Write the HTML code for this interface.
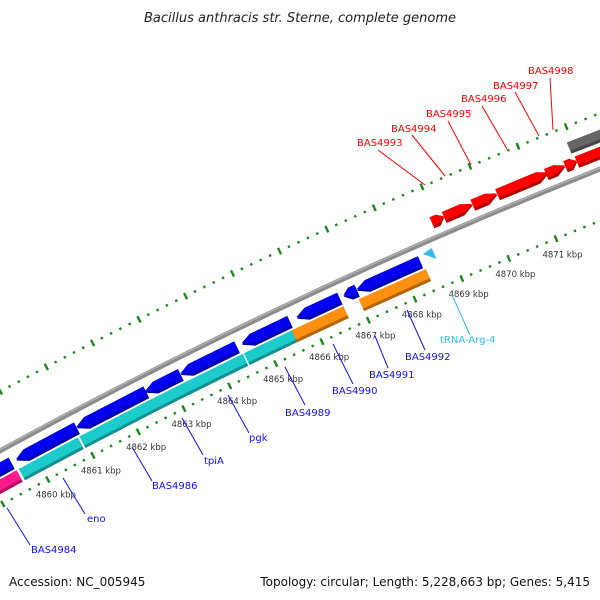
<!DOCTYPE html>
<html><head><meta charset="utf-8"><style>
body{margin:0;background:#fff}
svg{display:block}
text{font-family:"DejaVu Sans","Liberation Sans",sans-serif}
</style></head><body>
<svg id="map" width="600" height="600" viewBox="0 0 600 600" xmlns="http://www.w3.org/2000/svg">
<rect width="600" height="600" fill="#fff"/>
<text x="300" y="22" text-anchor="middle" font-size="13" font-style="italic" fill="#222">Bacillus anthracis str. Sterne, complete genome</text>
<g id="rings"></g>
<g id="features"></g>
<g id="labels"></g>
<text x="9" y="586" font-size="12" fill="#111">Accession: NC_005945</text>
<text x="590" y="586" text-anchor="end" font-size="12" fill="#111">Topology: circular; Length: 5,228,663 bp; Genes: 5,415</text>
</svg>
<script>
// ---- data ----
const kbpTicks = [4860,4861,4862,4863,4864,4865,4866,4867,4868,4869,4870,4871];
const featStart = [4858.3,4859.64,4860.97,4862.47,4863.24,4864.57,4865.75,4866.76,4867.04, 4858.3,4859.6,4860.94,4862.45,4863.2,4864.53,4865.56,4867.0, 4868.9,4869.16,4869.76,4870.28,4871.3,4871.7,4871.94, 4871.9, 4868.5];
const featEnd   = [4859.53,4860.97,4862.49,4863.24,4864.46,4865.6,4866.67,4867.04,4868.39, 4859.55,4860.9,4862.45,4863.28,4864.5,4865.6,4866.67,4868.43, 4869.16,4869.76,4870.28,4871.35,4871.7,4871.94,4874, 4875, 4868.7];
const featLane  = ['blue','blue','blue','blue','blue','blue','blue','blue','blue', 'inner','inner','inner','inner','inner','inner','inner','inner', 'red','red','red','red','red','red','red', 'gray', 'trna'];
const featColor = ['#0000ee','#0000ee','#0000ee','#0000ee','#0000ee','#0000ee','#0000ee','#0000ee','#0000ee', '#ff1a8c','#1ccccc','#1ccccc','#1ccccc','#1ccccc','#1ccccc','#ff9010','#ff9010', '#ff0000','#ff0000','#ff0000','#ff0000','#ff0000','#ff0000','#ff0000', '#666666', '#33bbee'];
const featDir   = [-1,-1,-1,-1,-1,-1,-1,-1,-1, 0,0,0,0,0,0,0,0, 1,1,1,1,1,1,1, 0, -1];
const labelNames = ['BAS4984','eno','BAS4986','tpiA','pgk','BAS4989','BAS4990','BAS4991','BAS4992','tRNA-Arg-4','BAS4993','BAS4994','BAS4995','BAS4996','BAS4997','BAS4998'];
const labelColor = ['#1010ff','#1010ff','#1010ff','#1010ff','#1010ff','#1010ff','#1010ff','#1010ff','#1010ff','#33bbee','#ff0000','#ff0000','#ff0000','#ff0000','#ff0000','#ff0000'];
// ---- geometry ----
const CX=2631, CY=5275, R0=5495, A0=-118.31, S=0.538;
const lanes={blue:[-23,-10],inner:[-38,-25],red:[9,21],gray:[25,37],trna:[-20,-8]};
function P(k,d){const a=(A0+S*(k-4860))*Math.PI/180;const r=R0+d;return [CX+r*Math.cos(a),CY+r*Math.sin(a)];}
const NS='http://www.w3.org/2000/svg';
function mk(tag,attrs,parent){const e=document.createElementNS(NS,tag);for(const k in attrs)e.setAttribute(k,attrs[k]);parent.appendChild(e);return e;}
const rings=document.getElementById('rings'), feats=document.getElementById('features'), labs=document.getElementById('labels');
function arcPath(k0,k1,d){let s='';const n=20;for(let i=0;i<=n;i++){const p=P(k0+(k1-k0)*i/n,d);s+=(i?'L':'M')+p[0].toFixed(1)+' '+p[1].toFixed(1);}return s;}
// backbone
let bb=mk('path',{d:arcPath(4855,4878,0),stroke:'#8c8c8c','stroke-width':5,fill:'none'},rings);


let bb2=mk('path',{d:arcPath(4855,4878,1.2),stroke:'#b0b0b0','stroke-width':1.5,fill:'none'},rings);


// tick rings
[[-48,'inner'],[52,'outer']].forEach(([d,nm])=>{
  for(let i=0;i<=120;i++){const k=4855+i*0.2;const major=(i%5===0);
    const a=P(k,d-(major?3.5:1.2)), b=P(k,d+(major?3.5:1.2));
    const t=mk('line',{x1:a[0],y1:a[1],x2:b[0],y2:b[1],stroke:'#1a8a1a','stroke-width':2.4},rings);
    
    }
});
// kbp labels
kbpTicks.forEach(k=>{const p=P(k,-65);const t=mk('text',{x:p[0].toFixed(1),y:(p[1]+3).toFixed(1),'text-anchor':'middle','font-size':8.5,fill:'#333'},rings);t.textContent=k+' kbp';
  
  });
// features
function shade(c,f){const n=parseInt(c.slice(1),16);let r=n>>16,g=(n>>8)&255,b=n&255;return 'rgb('+Math.round(r*f)+','+Math.round(g*f)+','+Math.round(b*f)+')';}
function featPoly(k0,k1,dIn,dOut,dir){
  const len=k1-k0, h=Math.min(0.22,len*0.5), mid=(dIn+dOut)/2, pts=[];
  const push=(k,d)=>pts.push(P(k,d));
  if(dir===-1){push(k0,mid);push(k0+h,dOut);push(k1,dOut);push(k1,dIn);push(k0+h,dIn);}
  else if(dir===1){push(k0,dOut);push(k1-h,dOut);push(k1,mid);push(k1-h,dIn);push(k0,dIn);}
  else{push(k0,dOut);push(k1,dOut);push(k1,dIn);push(k0,dIn);}
  return pts.map(p=>p[0].toFixed(1)+','+p[1].toFixed(1)).join(' ');
}
for(let i=0;i<featStart.length;i++){
  const [dIn,dOut]=lanes[featLane[i]];const c=featColor[i];
  const g=mk('g',{},feats);
  
  
  if(featLane[i]==='trna'){
    const pts=[P(featStart[i],(dIn+dOut)/2+4),P(featEnd[i],dOut),P(featEnd[i],dIn)];
    mk('polygon',{points:pts.map(p=>p.join(',')).join(' '),fill:c},g);continue;}
  mk('polygon',{points:featPoly(featStart[i],featEnd[i],dIn,dOut,featDir[i]),fill:shade(c,0.7)},g);
  mk('polygon',{points:featPoly(featStart[i],featEnd[i],dIn+3,dOut,featDir[i]),fill:c},g);
}
// gene labels (text positions + leader lines)
const labelX=[31,87,152,204,249,285,332,369,405,440,357,391,426,461,493,528];
const labelY=[553,522,489,464,441,416,394,378,360,343,146,132,117,102,89,74];
const leadA=[[7,508],[63,478],[132,447],[182,418],[228,395],[285,367],[333,344],[375,336],[407,310],[452,295],[378,150],[412,135],[448,121],[482,106],[515,92],[550,78]];
const leadB=[[30,545],[85,514],[152,481],[203,455],[249,433],[305,405],[353,384],[388,368],[425,350],[470,335],[425,185],[445,176],[471,165],[507,149],[539,136],[553,130]];
labelNames.forEach((nm,i)=>{
  const l=mk('line',{x1:leadA[i][0],y1:leadA[i][1],x2:leadB[i][0],y2:leadB[i][1],stroke:labelColor[i],'stroke-width':1},labs);
  
  
  const t=mk('text',{x:labelX[i],y:labelY[i],'font-size':10,fill:labelColor[i]},labs);t.textContent=nm;
  
  
});
</script>
</body></html>
